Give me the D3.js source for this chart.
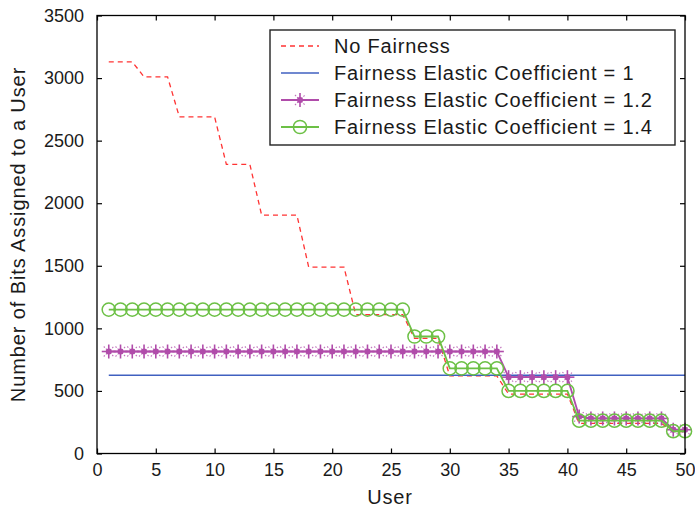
<!DOCTYPE html>
<html>
<head>
<meta charset="utf-8">
<script src="https://cdn.jsdelivr.net/npm/d3@7"></script>
<style>
  html, body { margin: 0; padding: 0; background: #ffffff; }
  svg text { font-family: "Liberation Sans", Arial, Helvetica, sans-serif; fill: #1a1a1a; }
</style>
</head>
<body>
<svg id="chart" width="695" height="515"></svg>
<script>
// Users on the x axis
const users = [1,2,3,4,5,6,7,8,9,10,11,12,13,14,15,16,17,18,19,20,21,22,23,24,25,
               26,27,28,29,30,31,32,33,34,35,36,37,38,39,40,41,42,43,44,45,46,47,48,49,50];

// Bits assigned per user, one array per allocation scheme
const noFairness = [3130,3130,3130,3010,3010,3010,2690,2690,2690,2690,
                    2310,2310,2310,1905,1905,1905,1905,1490,1490,1490,
                    1490,1110,1110,1110,1110,1110,920,920,920,620,
                    620,620,620,620,475,475,475,475,475,475,
                    240,240,240,240,240,240,240,240,175,175];
const coef10 = [625,625,625,625,625,625,625,625,625,625,
                625,625,625,625,625,625,625,625,625,625,
                625,625,625,625,625,625,625,625,625,625,
                625,625,625,625,625,625,625,625,625,625,
                625,625,625,625,625,625,625,625,625,625];
const coef12 = [815,815,815,815,815,815,815,815,815,815,
                815,815,815,815,815,815,815,815,815,815,
                815,815,815,815,815,815,815,815,815,815,
                815,815,815,815,610,610,610,610,610,610,
                295,280,280,280,280,280,280,280,190,190];
const coef14 = [1150,1150,1150,1150,1150,1150,1150,1150,1150,1150,
                1150,1150,1150,1150,1150,1150,1150,1150,1150,1150,
                1150,1150,1150,1150,1150,1150,935,935,935,680,
                680,680,680,680,500,500,500,500,500,500,
                262,262,262,262,262,262,262,262,178,178];

const seriesNames = ["No Fairness",
                     "Fairness Elastic Coefficient = 1",
                     "Fairness Elastic Coefficient = 1.2",
                     "Fairness Elastic Coefficient = 1.4"];
const xTicks = [0,5,10,15,20,25,30,35,40,45,50];
const yTicks = [0,500,1000,1500,2000,2500,3000,3500];

const svg = d3.select("#chart");
const W = 695, H = 515;
const plot = { left: 97, right: 685, top: 15.5, bottom: 453.5 };

const x = d3.scaleLinear().domain([0, 50]).range([plot.left, plot.right]);
const y = d3.scaleLinear().domain([0, 3500]).range([plot.bottom, plot.top]);

svg.append("rect").attr("width", W).attr("height", H).attr("fill", "#ffffff");

const series = [
  { name: seriesNames[0], values: noFairness, color: "#ff3333", dash: "5,4", width: 1.3, marker: null },
  { name: seriesNames[1], values: coef10,     color: "#4060c0", dash: null,  width: 1.6, marker: null },
  { name: seriesNames[2], values: coef12,     color: "#b04caa", dash: null,  width: 1.8, marker: "star" },
  { name: seriesNames[3], values: coef14,     color: "#6cc045", dash: null,  width: 1.8, marker: "circle" }
];

const line = d3.line().x((d, i) => x(users[i])).y(d => y(d));

// marker drawing helpers
function drawStar(g, cx, cy, color) {
  const r = 7, rd = 5;
  const m = g.append("g").attr("transform", `translate(${cx},${cy})`)
    .attr("stroke", color).attr("fill", color);
  m.append("line").attr("x1", -r).attr("x2", r).attr("y1", 0).attr("y2", 0).attr("stroke-width", 1.6);
  m.append("line").attr("x1", 0).attr("x2", 0).attr("y1", -r).attr("y2", r).attr("stroke-width", 1.6);
  m.append("line").attr("x1", -rd).attr("x2", rd).attr("y1", -rd).attr("y2", rd)
    .attr("stroke-width", 1.1).attr("stroke-dasharray", "1.5,1.5").attr("opacity", 0.8);
  m.append("line").attr("x1", -rd).attr("x2", rd).attr("y1", rd).attr("y2", -rd)
    .attr("stroke-width", 1.1).attr("stroke-dasharray", "1.5,1.5").attr("opacity", 0.8);
  m.append("circle").attr("r", 3).attr("stroke", "none");
}
function drawCircle(g, cx, cy, color) {
  g.append("circle").attr("cx", cx).attr("cy", cy).attr("r", 6.6)
    .attr("fill", "none").attr("stroke", color).attr("stroke-width", 1.5);
}

const plotG = svg.append("g");
series.forEach(s => {
  plotG.append("path")
    .datum(s.values)
    .attr("d", line)
    .attr("fill", "none")
    .attr("stroke", s.color)
    .attr("stroke-width", s.width)
    .attr("stroke-dasharray", s.dash);
  if (s.marker) {
    const mg = plotG.append("g");
    s.values.forEach((v, i) => {
      if (s.marker === "star") drawStar(mg, x(users[i]), y(v), s.color);
      else drawCircle(mg, x(users[i]), y(v), s.color);
    });
  }
});

// axes: ticks pointing inwards on all four sides
const tickLen = 5;
const axB = d3.axisBottom(x).tickValues(xTicks).tickSize(-tickLen).tickPadding(10).tickFormat(d3.format("d"));
const axT = d3.axisTop(x).tickValues(xTicks).tickSize(-tickLen).tickFormat("");
const axL = d3.axisLeft(y).tickValues(yTicks).tickSize(-tickLen).tickPadding(13).tickFormat(d3.format("d"));
const axR = d3.axisRight(y).tickValues(yTicks).tickSize(-tickLen).tickFormat("");

function styleAxis(g) {
  g.select(".domain").remove();
  g.selectAll(".tick line").attr("stroke", "#000").attr("stroke-width", 1.2);
  g.selectAll(".tick text").attr("font-size", 18).attr("fill", "#1a1a1a")
    .attr("font-family", "'Liberation Sans', Arial, sans-serif");
}
svg.append("g").attr("transform", `translate(0,${plot.bottom})`).call(axB).call(styleAxis);
svg.append("g").attr("transform", `translate(0,${plot.top})`).call(axT).call(styleAxis);
svg.append("g").attr("transform", `translate(${plot.left},0)`).call(axL).call(styleAxis);
svg.append("g").attr("transform", `translate(${plot.right},0)`).call(axR).call(styleAxis);

// frame
svg.append("rect")
  .attr("x", plot.left).attr("y", plot.top)
  .attr("width", plot.right - plot.left).attr("height", plot.bottom - plot.top)
  .attr("fill", "none").attr("stroke", "#000").attr("stroke-width", 1.3);

// axis titles
svg.append("text")
  .attr("x", (plot.left + plot.right) / 2 - 1).attr("y", 504)
  .attr("text-anchor", "middle").attr("font-size", 20).attr("letter-spacing", 0.8)
  .text("User");
svg.append("text")
  .attr("transform", `translate(25,${(plot.top + plot.bottom) / 2}) rotate(-90)`)
  .attr("text-anchor", "middle").attr("font-size", 20).attr("letter-spacing", 0.9)
  .text("Number of Bits Assigned to a User");

// legend
const lg = svg.append("g");
const box = { x: 270, y: 30, w: 405, h: 115 };
lg.append("rect").attr("x", box.x).attr("y", box.y).attr("width", box.w).attr("height", box.h)
  .attr("fill", "#ffffff").attr("stroke", "#222").attr("stroke-width", 1.4);
const rowY = [46, 73, 100, 127];
series.forEach((s, i) => {
  const yy = rowY[i];
  lg.append("line").attr("x1", 281).attr("x2", 319).attr("y1", yy).attr("y2", yy)
    .attr("stroke", s.color).attr("stroke-width", s.width).attr("stroke-dasharray", s.dash);
  if (s.marker === "star") drawStar(lg, 300, yy, s.color);
  if (s.marker === "circle") drawCircle(lg, 300, yy, s.color);
  lg.append("text").attr("x", 334).attr("y", yy + 7)
    .attr("font-size", 20).attr("letter-spacing", 0.8)
    .text(s.name);
});
</script>
</body>
</html>
